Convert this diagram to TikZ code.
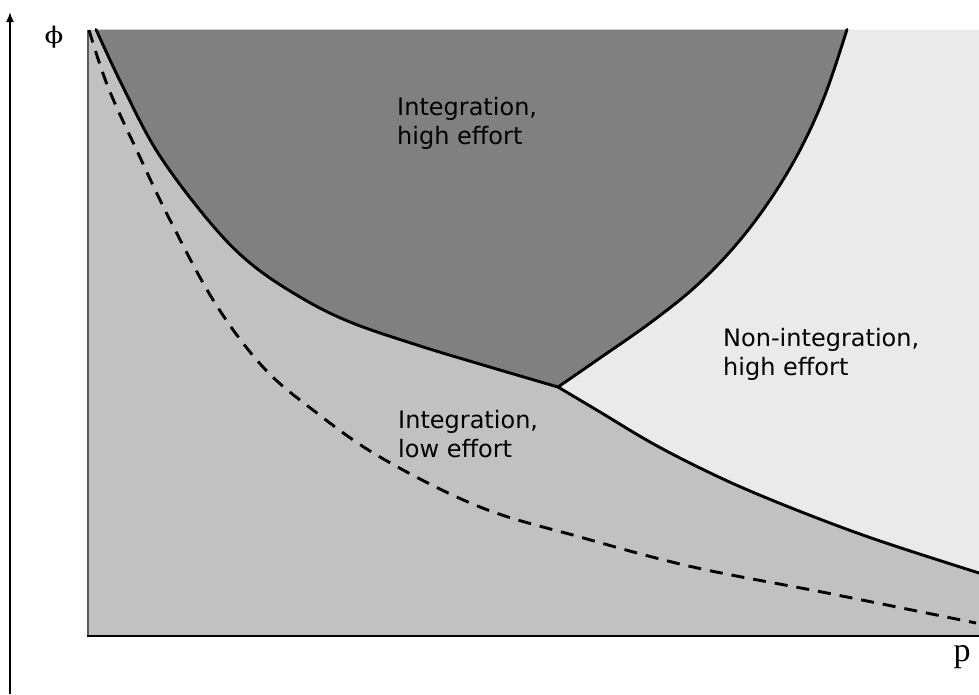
\documentclass[tikz,border=0pt]{standalone}
\usepackage{fontspec}
\newfontfamily\labelfont{DejaVu Sans}
\newfontfamily\axisfont{Liberation Serif}
\newfontfamily\phifont{DejaVu Serif}
\usetikzlibrary{arrows.meta}
\definecolor{darkreg}{gray}{0.50}
\definecolor{midreg}{gray}{0.755}
\definecolor{lightreg}{gray}{0.918}
\definecolor{leftedge}{gray}{0.35}
\begin{document}
\begin{tikzpicture}[x=1pt,y=-1pt,
  regionlabel/.style={font=\labelfont\fontsize{24}{29.5}\selectfont, align=left, anchor=north west, inner sep=0pt, text=black},
  boundary/.style={line width=2.9pt, line join=round, line cap=round},
  dashedboundary/.style={line width=2.9pt, dash pattern=on 13pt off 9pt},
  axislabel/.style={inner sep=0pt, text=black}]
\useasboundingbox (0,0) rectangle (979,694);
% base region
\fill[midreg] (88,29.5) rectangle (979,636);
% dark region: integration, high effort
\fill[darkreg] (96,29.5)
  -- plot[smooth, tension=0.6] coordinates {(96,29.5) (123,87) (158,153) (208,220) (250,263) (300,297) (350,322) (417,345) (483,365) (558,387)}
  -- plot[smooth, tension=0.6] coordinates {(558,387) (600,358) (650,323) (695,287) (735,246) (770,200) (800,150) (825,95) (847,29.5)}
  -- cycle;
% light region: non-integration, high effort
\fill[lightreg] (847,29.5)
  -- plot[smooth, tension=0.6] coordinates {(847,29.5) (825,95) (800,150) (770,200) (735,246) (695,287) (650,323) (600,358) (558,387)}
  -- plot[smooth, tension=0.6] coordinates {(558,387) (600,412) (650,442) (700,468) (750,491) (817,518) (883,542) (979,573)}
  -- (979,29.5) -- cycle;
% borders
\draw[leftedge, line width=1.5pt] (88,29.5) -- (88,636);
\draw[black, line width=2pt] (87.25,636) -- (979,636);
% boundaries
\draw[boundary] plot[smooth, tension=0.6] coordinates {(96,29.5) (123,87) (158,153) (208,220) (250,263) (300,297) (350,322) (417,345) (483,365) (558,387)};
\draw[boundary] plot[smooth, tension=0.6] coordinates {(558,387) (600,358) (650,323) (695,287) (735,246) (770,200) (800,150) (825,95) (847,29.5)};
\draw[boundary] plot[smooth, tension=0.6] coordinates {(558,387) (600,412) (650,442) (700,468) (750,491) (817,518) (883,542) (979,573)};
\draw[dashedboundary] plot[smooth, tension=0.6] coordinates {(89,30) (108,87) (138,153) (170,220) (215,303) (263,367) (313,410) (380,457) (480,507) (580,537) (693,567) (827,593) (976,623)};
% labels
\node[regionlabel] (ihigh) at (397,97) {Integration,\\high effort};
\node[regionlabel] (nhigh) at (723,328) {Non-integration,\\high effort};
\node[regionlabel] (ilow) at (398,410) {Integration,\\low effort};
% axis
\coordinate (ybot) at (10,694);
\coordinate (ytop) at (10,12);
\draw[line width=1.7pt, -{Latex[length=10pt,width=8pt]}] (ybot) -- (ytop);
\node[axislabel] (phi) at (54,37) {\scalebox{1.2}[1]{\phifont\fontsize{23}{28}\selectfont ϕ}};
\node[axislabel] (plab) at (962,657) {\axisfont\fontsize{34}{40}\selectfont p};
\end{tikzpicture}
\end{document}
